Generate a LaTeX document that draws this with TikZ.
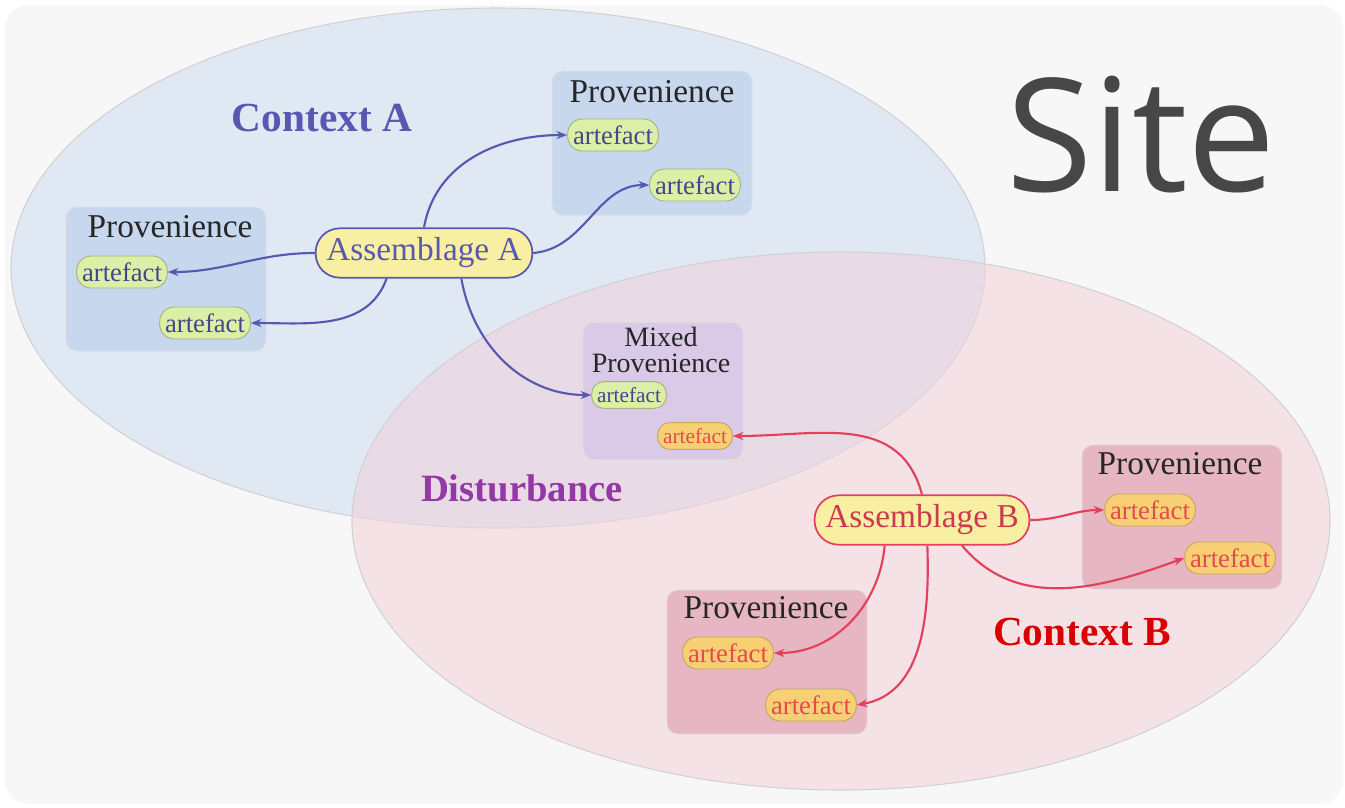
\documentclass[tikz,border=0pt]{standalone}
\usepackage{fontspec}
\setmainfont{Liberation Serif}
\newfontfamily\sitefont{Open Sans}
\usetikzlibrary{positioning,arrows.meta,calc}
\definecolor{bg}{HTML}{F7F7F7}
\definecolor{ctxa}{HTML}{DCE6F4}
\definecolor{ctxb}{HTML}{F2D2DB}
\definecolor{pva}{HTML}{C7D8EE}
\definecolor{pvb}{HTML}{E6B6C3}
\definecolor{pvm}{HTML}{DACAE7}
\definecolor{inka}{HTML}{5858B2}
\definecolor{inkb}{HTML}{E2405C}
\definecolor{dist}{HTML}{9438A6}
\definecolor{asm}{HTML}{F8EFA2}
\definecolor{arta}{HTML}{DCEFA6}
\definecolor{artb}{HTML}{F6D073}

\begin{document}
\begin{tikzpicture}[x=0.75pt, y=-0.75pt,
  prov/.style={rounded corners=8pt, minimum width=150pt, minimum height=108pt, inner sep=0pt, draw=black!12, line width=0.5pt},
  ptitle/.style={inner sep=0pt, text=black!85, font=\fontsize{25}{27}\selectfont},
  art/.style={rounded corners=11pt, inner xsep=4pt, inner ysep=1pt, minimum height=24pt, line width=0.7pt, font=\fontsize{20}{22}\selectfont},
  arta/.style={art, fill=arta, draw=black!25!arta, text=inka!80!black},
  artb/.style={art, fill=artb, draw=black!20!artb, text=inkb!85!orange},
  asmb/.style={rounded corners=18pt, minimum height=37pt, inner xsep=8pt, fill=asm, line width=1.3pt, font=\fontsize{25}{27}\selectfont},
  linka/.style={inka, line width=1.6pt, -{Stealth[length=8pt,width=6pt]}},
  linkb/.style={inkb, line width=1.6pt, -{Stealth[length=8pt,width=6pt]}},
  ctx/.style={inner sep=0pt, font=\bfseries\fontsize{31}{33}\selectfont}]
\useasboundingbox (0,0) rectangle (1345,807);
\fill[white] (0,0) rectangle (1345,807);
\fill[bg, rounded corners=18pt] (5,5) rectangle (1343,804);
% the two contexts
\draw[black!18, line width=0.8pt, fill=ctxa, fill opacity=0.85] (498,268) ellipse [x radius=487, y radius=260];
\draw[black!18, line width=0.8pt, fill=ctxb, fill opacity=0.55] (841,521) ellipse [x radius=489, y radius=269];
\node[inner sep=0pt, text=black!72, font=\sitefont\fontsize{118}{120}\selectfont] (site) at (1141,135) {Site};
\node[ctx, text=inka] (ctxA) at (322,118) {Context A};
\node[ctx, text=dist, font=\bfseries\fontsize{29}{31}\selectfont] (distb) at (522,488) {Disturbance};
\node[ctx, text=red!85!black] (ctxB) at (1082,632) {Context B};
% provenience boxes
\node[prov, fill=pva] (pvT) at (652,143) {};
\node[prov, fill=pva] (pvL) at (166,279) {};
\node[prov, fill=pvm, minimum width=120pt, minimum height=103pt] (pvM) at (663,391) {};
\node[prov, fill=pvb] (pvR) at (1182,517) {};
\node[prov, fill=pvb] (pvD) at (767,662) {};
\foreach \n/\p in {pvT/{652,92}, pvL/{170,227}, pvR/{1180,464}, pvD/{766,608}}
  \node[ptitle] (\n t) at (\p) {Provenience};
\node[ptitle, align=center, font=\fontsize{21}{20}\selectfont] (pvMt) at (661,350) {Mixed\\Provenience};
% artefacts
\foreach \n/\p in {tA1/{613,135}, tA2/{695,185}, lA1/{122,272}, lA2/{205,323}}
  \node[arta] (\n) at (\p) {artefact};
\foreach \n/\p in {rB1/{1150,510}, rB2/{1230,558}, dB1/{728,653}, dB2/{811,705}}
  \node[artb] (\n) at (\p) {artefact};
\node[arta, font=\fontsize{16}{18}\selectfont, minimum height=20pt, rounded corners=9pt] (mA) at (629,395) {artefact};
\node[artb, font=\fontsize{16}{18}\selectfont, minimum height=20pt, rounded corners=9pt] (mB) at (695,436) {artefact};
% assemblages
\node[asmb, draw=inka, text=inka] (asmA) at (424,253) {Assemblage A};
\node[asmb, draw=inkb, text=inkb!90!black] (asmB) at (922,520) {Assemblage B};
% links of assemblage A
\draw[linka] (asmA.north) to[out=80, in=180] (tA1.west);
\draw[linka] (asmA.east) to[out=5, in=180] (tA2.west);
\draw[linka] (asmA.west) to[out=180, in=0] (lA1.east);
\draw[linka] ([xshift=-28pt]asmA.south) to[out=-110, in=0] (lA2.east);
\draw[linka] ([xshift=28pt]asmA.south) to[out=-80, in=180] (mA.west);
% links of assemblage B
\draw[linkb] (asmB.north) to[out=105, in=0, looseness=1.1] (mB.east);
\draw[linkb] (asmB.east) to[out=0, in=180] (rB1.west);
\draw[linkb] ([xshift=30pt]asmB.south) to[out=-50, in=200] (rB2.west);
\draw[linkb] ([xshift=-28pt]asmB.south) to[out=-95, in=0] (dB1.east);
\draw[linkb] ([xshift=4pt]asmB.south) to[out=-88, in=10] (dB2.east);
\end{tikzpicture}
\end{document}
